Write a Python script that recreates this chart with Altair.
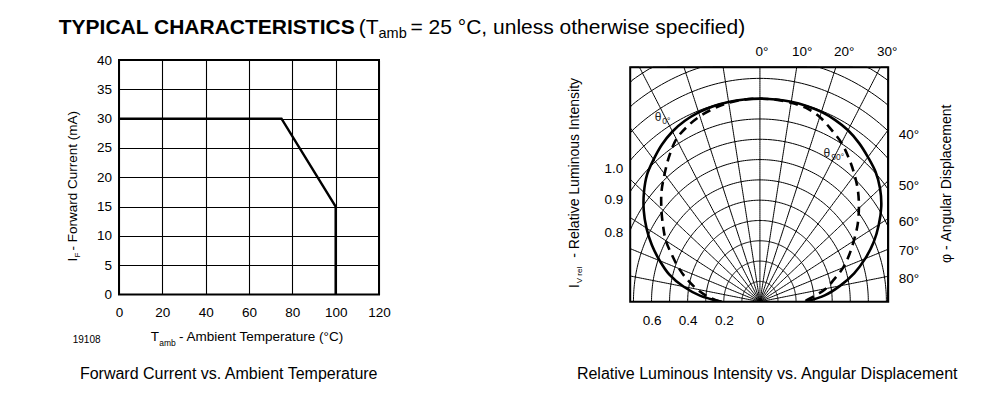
import altair as alt
import pandas as pd

FONT = "Liberation Sans"
BLACK = "#000000"

# ---------------- Left chart: forward current vs ambient temperature ----------------
T_AMB = [0, 75, 100, 100]
I_F = [30, 30, 15, 0]
T_DOMAIN = [0, 120]
I_DOMAIN = [0, 40]
T_TICKS = [0, 20, 40, 60, 80, 100, 120]
I_TICKS = [0, 5, 10, 15, 20, 25, 30, 35, 40]

# ---------------- Right chart: relative luminous intensity vs angular displacement ----------------
PHI = [-90, -85, -80, -75, -70, -65, -60, -55, -50, -45, -40, -35, -30, -25, -20, -15, -10, -5,
       0, 5, 10, 15, 20, 25, 30, 35, 40, 45, 50, 55, 60, 65, 70, 75, 80, 85, 90]
IV_THETA0 = [0.21, 0.33, 0.43, 0.52, 0.59, 0.66, 0.725, 0.785, 0.838, 0.884, 0.915, 0.945, 0.968,
             0.983, 0.992, 0.997, 0.999, 1.0, 1.0, 1.0, 1.0, 0.998, 0.995, 0.987, 0.975, 0.955,
             0.93, 0.905, 0.868, 0.82, 0.76, 0.695, 0.62, 0.54, 0.45, 0.36, 0.25]
IV_THETA90 = [0.22, 0.29, 0.353, 0.415, 0.476, 0.535, 0.601, 0.655, 0.712, 0.77, 0.821, 0.875,
              0.925, 0.952, 0.972, 0.985, 0.995, 0.999, 1.0, 0.999, 0.995, 0.988, 0.968, 0.935,
              0.903, 0.86, 0.815, 0.768, 0.715, 0.66, 0.6, 0.545, 0.49, 0.425, 0.37, 0.3, 0.24]
CIRCLE_R = [0.1, 0.2, 0.3, 0.4, 0.5, 0.6, 0.7, 0.8, 0.9, 1.0, 1.1, 1.2, 1.3]
SPOKE_DEG = [-90, -80, -70, -60, -50, -40, -30, -20, -10, 0, 10, 20, 30, 40, 50, 60, 70, 80, 90]
X_DOMAIN = [-0.718, 0.71]
Y_DOMAIN = [0, 1.155]
BOTTOM_TICKS = [-0.6, -0.4, -0.2, 0]
LEFT_TICK_POS = [0.654, 0.502, 0.343]
LEFT_TICK_TXT = ["1.0", "0.9", "0.8"]
TOP_TICK_POS = [0.009, 0.231, 0.464, 0.702]
TOP_TICK_TXT = ["0°", "10°", "20°", "30°"]
RIGHT_TICK_POS = [0.823, 0.571, 0.395, 0.252, 0.116]
RIGHT_TICK_TXT = ["40°", "50°", "60°", "70°", "80°"]


def label_expr(pos, txt):
    arr_t = "[" + ",".join("'%s'" % t for t in txt) + "]"
    arr_p = "[" + ",".join(str(p) for p in pos) + "]"
    return arr_t + "[indexof(" + arr_p + ", datum.value)]"


def text(s, x, y, size=13.5, angle=0, align="left", weight="normal", color=BLACK, baseline="alphabetic"):
    return alt.Chart(pd.DataFrame({"k": [0]})).mark_text(
        text=s, font=FONT, fontSize=size, fontWeight=weight, angle=angle, align=align,
        baseline=baseline, color=color
    ).encode(x=alt.value(x), y=alt.value(y))


AX = dict(domain=False, ticks=False, labelFont=FONT, labelFontSize=13.5, labelColor=BLACK,
          title=None, labelOverlap=False)

# ---------------- left panel ----------------
lx = alt.Scale(domain=T_DOMAIN, nice=False, zero=False)
ly = alt.Scale(domain=I_DOMAIN, nice=False, zero=False)
left_df = pd.DataFrame({"t": T_AMB, "i": I_F, "k": list(range(len(T_AMB)))})

left_line = alt.Chart(left_df).mark_line(color=BLACK, strokeWidth=2.4).encode(
    x=alt.X("t:Q", scale=lx, axis=alt.Axis(values=T_TICKS, grid=True, gridColor=BLACK, gridWidth=1.1,
                                          gridOpacity=1, labelPadding=11, labelFlush=False, **AX)),
    y=alt.Y("i:Q", scale=ly, axis=alt.Axis(values=I_TICKS, grid=True, gridColor=BLACK, gridWidth=1.1,
                                          gridOpacity=1, labelPadding=7.5, **AX)),
    order="k:Q",
)
left_box = alt.Chart(pd.DataFrame({"x0": [T_DOMAIN[0]], "x1": [T_DOMAIN[1]],
                                   "y0": [I_DOMAIN[0]], "y1": [I_DOMAIN[1]]})).mark_rect(
    fill="transparent", stroke=BLACK, strokeWidth=2
).encode(x=alt.X("x0:Q", scale=lx, axis=None), x2="x1",
         y=alt.Y("y0:Q", scale=ly, axis=None), y2="y1")

left_texts = [
    text("TYPICAL CHARACTERISTICS", -60.3, -26, size=21, weight="bold"),
    text("(T", 239.7, -26, size=21),
    text("amb", 259.5, -22.5, size=14.5),
    text("= 25 °C, unless otherwise specified)", 291.5, -26, size=21),
    text("I", -41.8, 201.4, angle=270),
    text("F", -38.8, 197.5, size=8, angle=270),
    text("- Forward Current (mA)", -41.8, 190.5, angle=270),
    text("T", 31.7, 281.2),
    text("amb", 40.2, 285.7, size=8.5),
    text("- Ambient Temperature (°C)", 60.0, 281.2),
    text("19108", -46.3, 283, size=10),
    text("Forward Current vs. Ambient Temperature", 109.7, 319, size=16, align="center"),
]
left = alt.layer(left_line, left_box, *left_texts).resolve_axis(
    x="independent", y="independent").properties(width=260, height=234.4)

# ---------------- right panel ----------------
xs = alt.Scale(domain=X_DOMAIN, nice=False, zero=False, clamp=True)
ys = alt.Scale(domain=Y_DOMAIN, range=[241.7, 7.2], nice=False, zero=False, clamp=True)
PX = "datum.r * sin(datum.a * PI / 180)"
PY = "datum.r * cos(datum.a * PI / 180)"

circ_df = pd.DataFrame([(r, a) for r in CIRCLE_R for a in range(-90, 91)], columns=["r", "a"])
spoke_df = pd.DataFrame([(a, s / 100.0) for a in SPOKE_DEG for s in range(0, 151)], columns=["a", "r"])
curve_df = pd.DataFrame({"a": PHI, "v0": IV_THETA0, "v90": IV_THETA90})

circles = alt.Chart(circ_df).transform_calculate(px=PX, py=PY).mark_line(
    color=BLACK, strokeWidth=1, clip=True
).encode(
    x=alt.X("px:Q", scale=xs, axis=alt.Axis(orient="bottom", values=BOTTOM_TICKS, labelPadding=11.5,
                                           labelFlush=False, grid=False,
                                           labelExpr="datum.value == 0 ? '0' : format(-datum.value, '.1f')",
                                           **AX)),
    y=alt.Y("py:Q", scale=ys, axis=alt.Axis(orient="left", values=LEFT_TICK_POS, labelPadding=7.5,
                                           grid=False,
                                           labelExpr=label_expr(LEFT_TICK_POS, LEFT_TICK_TXT), **AX)),
    detail="r:N", order="a:Q",
)
spokes = alt.Chart(spoke_df).transform_calculate(px=PX, py=PY).mark_line(
    color=BLACK, strokeWidth=1, clip=True
).encode(
    x=alt.X("px:Q", scale=xs, axis=alt.Axis(orient="top", values=TOP_TICK_POS, labelPadding=2,
                                           labelFlush=False, grid=False,
                                           labelExpr=label_expr(TOP_TICK_POS, TOP_TICK_TXT), **AX)),
    y=alt.Y("py:Q", scale=ys, axis=alt.Axis(orient="right", values=RIGHT_TICK_POS, labelPadding=10,
                                           grid=False,
                                           labelExpr=label_expr(RIGHT_TICK_POS, RIGHT_TICK_TXT), **AX)),
    detail="a:N", order="r:Q",
)
solid = alt.Chart(curve_df).transform_calculate(
    px="datum.v0 * sin(datum.a * PI / 180)", py="datum.v0 * cos(datum.a * PI / 180)"
).mark_line(color=BLACK, strokeWidth=2.6, interpolate="catmull-rom", clip=True).encode(
    x=alt.X("px:Q", scale=xs, axis=None), y=alt.Y("py:Q", scale=ys, axis=None), order="a:Q")
dashed = alt.Chart(curve_df).transform_calculate(
    px="datum.v90 * sin(datum.a * PI / 180)", py="datum.v90 * cos(datum.a * PI / 180)"
).mark_line(color=BLACK, strokeWidth=2.6, strokeDash=[9, 6], interpolate="catmull-rom", clip=True).encode(
    x=alt.X("px:Q", scale=xs, axis=None), y=alt.Y("py:Q", scale=ys, axis=None), order="a:Q")
right_box = alt.Chart(pd.DataFrame({"x0": [X_DOMAIN[0]], "x1": [X_DOMAIN[1]],
                                    "y0": [Y_DOMAIN[0]], "y1": [Y_DOMAIN[1]]})).mark_rect(
    fill="transparent", stroke=BLACK, strokeWidth=2
).encode(x=alt.X("x0:Q", scale=xs, axis=None), x2="x1",
         y=alt.Y("y0:Q", scale=ys, axis=None), y2="y1")

right_texts = [
    text("I", -51, 228, size=14, angle=270),
    text("V rel", -48, 223.2, size=8, angle=270),
    text("- Relative Luminous Intensity", -51, 197.7, size=14, angle=270),
    text("φ - Angular Displacement", 320.5, 203, size=14, angle=270),
    text("θ", 24.5, 60.7, size=12, color="#222222"),
    text("0°", 32, 63.7, size=8.5, color="#222222"),
    text("θ", 193.2, 97.2, size=12, color="#222222"),
    text("90°", 201, 100.2, size=8.5, color="#222222"),
    text("Relative Luminous Intensity vs. Angular Displacement", 137, 319, size=16, align="center"),
]
right = alt.layer(circles, spokes, solid, dashed, right_box, *right_texts).resolve_axis(
    x="independent", y="independent").properties(width=258, height=241.7)

chart = alt.hconcat(left, right, spacing=251.2, bounds="flush").properties(
    padding={"left": 50, "top": 9, "right": 5, "bottom": 5}
).configure_view(strokeWidth=0)

chart.save("out.html", embed_options={"renderer": "svg", "actions": False})
